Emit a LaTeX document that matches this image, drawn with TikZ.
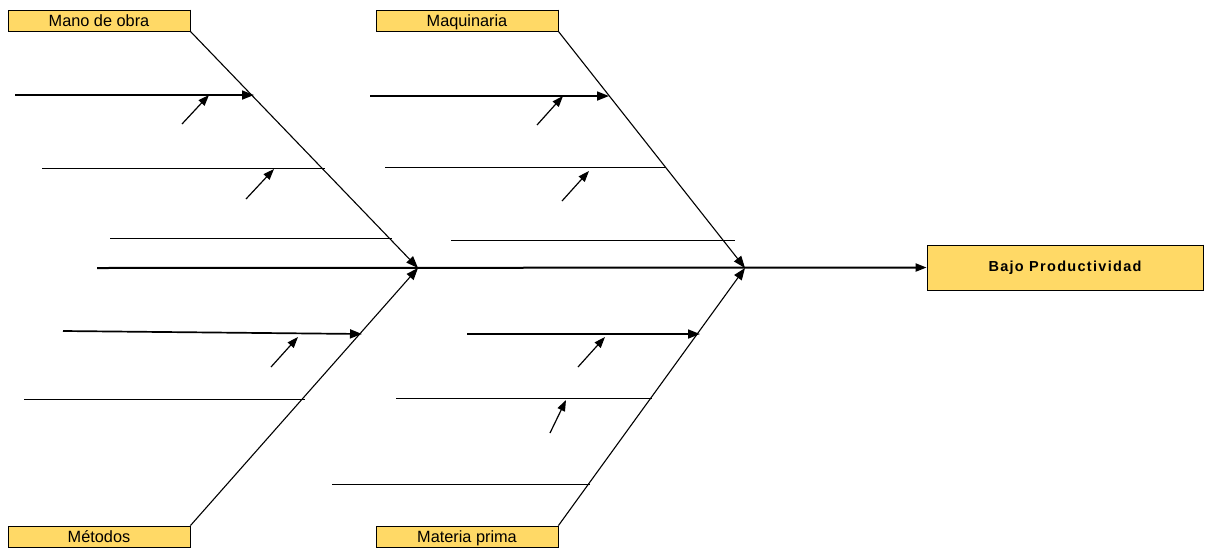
\documentclass[tikz,border=0pt]{standalone}
\usepackage{fontspec}
\setmainfont{Liberation Sans}
\newfontfamily\effectfont[LetterSpace=9]{Liberation Sans}
\usetikzlibrary{arrows.meta}
\definecolor{boxfill}{HTML}{FFD966}
\tikzset{
  cause/.style={draw=black, line width=0.8pt, fill=boxfill, minimum width=182pt, minimum height=21pt,
    inner sep=0pt, text depth=0pt, font=\fontsize{16.3}{16}\selectfont},
  effect/.style={draw=black, line width=0.8pt, fill=boxfill, minimum width=276pt, minimum height=45pt,
    inner sep=0pt, font=\effectfont\bfseries\fontsize{14.5}{15}\selectfont},
  bone/.style={line width=1.1pt, -{Triangle[length=12pt,width=9pt]}},
  spine/.style={line width=2pt, -{Triangle[length=11pt,width=8pt]}},
  subarrow/.style={line width=1.7pt, -{Triangle[length=12pt,width=9pt]}},
  subline/.style={line width=0.8pt},
  tick/.style={line width=1.2pt, -{Triangle[length=11pt,width=8pt]}},
}
\begin{document}
\begin{tikzpicture}[x=1pt,y=-1pt]
\useasboundingbox (0,0) rectangle (1205,547);

% category boxes and effect box
\node[cause]  (mano) at (99,20.5)   {Mano de obra};
\node[cause]  (maq)  at (467,20.5)  {Maquinaria};
\node[cause]  (met)  at (99,536.5)  {Métodos};
\node[cause]  (mat)  at (467,536.5) {Materia prima};
\node[effect] (ef)   at (1065,267.5) {Bajo Productividad};
% darker shadow edges on the right and bottom of each box
\foreach \b in {mano,maq,met,mat,ef}
  \draw[line width=1.6pt] (\b.north east) -- (\b.south east) -- (\b.south west);

% spine with its junctions
\coordinate (s0) at (97,268);
\coordinate (j1) at (418,268);
\coordinate (j2) at (745,268);
\draw[spine] (s0) -- (ef.west);

% main bones
\draw[bone] (mano.south east) -- (j1);
\draw[bone] (met.north east)  -- (j1);
\draw[bone] (maq.south east)  -- (j2);
\draw[bone] (mat.north east)  -- (j2);

% Mano de obra branches
\coordinate (a1s) at (15,95);   \coordinate (a1e) at (254,95);
\coordinate (a2s) at (42,168);  \coordinate (a2e) at (325,168);
\coordinate (a3s) at (110,238); \coordinate (a3e) at (392,238);
\draw[subarrow] (a1s) -- (a1e);
\draw[subline]  (a2s) -- (a2e);
\draw[subline]  (a3s) -- (a3e);
\coordinate (t1s) at (182,124); \coordinate (t1e) at (209,95);
\coordinate (t2s) at (246,199); \coordinate (t2e) at (274,169);
\draw[tick] (t1s) -- (t1e);
\draw[tick] (t2s) -- (t2e);

% Maquinaria branches
\coordinate (b1s) at (370,96);  \coordinate (b1e) at (609,96);
\coordinate (b2s) at (385,167); \coordinate (b2e) at (666,167);
\coordinate (b3s) at (451,240); \coordinate (b3e) at (735,240);
\draw[subarrow] (b1s) -- (b1e);
\draw[subline]  (b2s) -- (b2e);
\draw[subline]  (b3s) -- (b3e);
\coordinate (u1s) at (537,125); \coordinate (u1e) at (563,96);
\coordinate (u2s) at (562,201); \coordinate (u2e) at (589,171);
\draw[tick] (u1s) -- (u1e);
\draw[tick] (u2s) -- (u2e);

% Métodos branches
\coordinate (c1s) at (63,331);  \coordinate (c1e) at (362,334);
\coordinate (c2s) at (24,399);  \coordinate (c2e) at (305,399);
\draw[subarrow] (c1s) -- (c1e);
\draw[subline]  (c2s) -- (c2e);
\coordinate (v1s) at (271,367); \coordinate (v1e) at (298,337);
\draw[tick] (v1s) -- (v1e);

% Materia prima branches
\coordinate (d1s) at (467,334); \coordinate (d1e) at (700,334);
\coordinate (d2s) at (396,398); \coordinate (d2e) at (652,398);
\coordinate (d3s) at (332,484); \coordinate (d3e) at (590,484);
\draw[subarrow] (d1s) -- (d1e);
\draw[subline]  (d2s) -- (d2e);
\draw[subline]  (d3s) -- (d3e);
\coordinate (w1s) at (578,367); \coordinate (w1e) at (605,337);
\coordinate (w2s) at (550,433); \coordinate (w2e) at (566,400);
\draw[tick] (w1s) -- (w1e);
\draw[tick] (w2s) -- (w2e);
\end{tikzpicture}
\end{document}
